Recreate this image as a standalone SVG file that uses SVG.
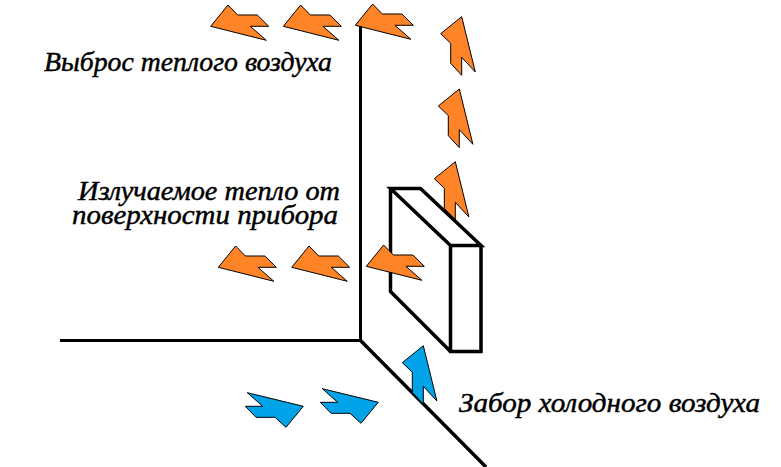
<svg xmlns="http://www.w3.org/2000/svg" width="781" height="467" viewBox="0 0 781 467">
<style>
.o{fill:#ff8427;stroke:#000;stroke-width:1}
.b{fill:#00a2e8;stroke:#000;stroke-width:1}
.l{fill:none;stroke:#000;stroke-width:3;stroke-linejoin:miter}
.d{fill:none;stroke:#000;stroke-width:3.500;stroke-linejoin:miter}
text{font-family:"Liberation Serif",serif;font-style:italic;font-size:27px;fill:#000;stroke:#000;stroke-width:.45}
</style>
<defs>
<polygon id="left" points="0,0 17.3,-21.3 27,-11.3 46.6,-11.3 58,0 39.6,0 55.6,14"/>
<polygon id="up" points="21,-17 0,0 10,9.6 10,29.6 21,41.6 21,23.6 34.6,38.3"/>
<polygon id="right" points="2,-13.6 58,0 40.7,21 29.7,11 10.7,11 0,0 17.4,0"/>
</defs>
<rect width="781" height="467" fill="#fff"/>
<g id="connectors">
<path class="l" d="M360.500 25V340.500H60"/>
<path class="d" d="M361 341L486 467"/>
</g>
<g id="arrows-orange-top">
<use id="a1" class="o" href="#left" x="210.700" y="26.300"/>
<use id="a2" class="o" href="#left" x="283.300" y="26.300"/>
<use id="a3" class="o" href="#left" x="355.300" y="25.300"/>
</g>
<g id="arrows-orange-up">
<use id="a4" class="o" href="#up" x="440.700" y="33.700"/>
<use id="a5" class="o" href="#up" x="438.300" y="106"/>
<use id="a6" class="o" href="#up" x="434.300" y="178.700"/>
</g>
<g id="device">
<path class="d" d="M390.500 188.500H420.500L481 245.500H450.500ZM450.500 245.500V351.500H481V245.500M390.500 188.500V291.500L450.500 351.500"/>
</g>
<g id="arrows-orange-mid">
<use id="a7" class="o" href="#left" x="218.300" y="267.300"/>
<use id="a8" class="o" href="#left" x="291.700" y="267.300"/>
<use id="a9" class="o" href="#left" x="366.300" y="266.300"/>
</g>
<g id="arrows-blue">
<use id="b1" class="b" href="#right" x="245.300" y="406.300"/>
<use id="b2" class="b" href="#right" x="320.300" y="402.300"/>
<use id="b3" class="b" href="#up" x="402.300" y="362.700"/>
</g>
<g id="labels">
<text id="t1" x="44" y="71" textLength="288" lengthAdjust="spacingAndGlyphs">Выброс теплого воздуха</text>
<text id="t2" x="78" y="200" textLength="262" lengthAdjust="spacingAndGlyphs">Излучаемое тепло от</text>
<text id="t3" x="72" y="224" textLength="266" lengthAdjust="spacingAndGlyphs">поверхности прибора</text>
<text id="t4" x="459" y="412" textLength="301" lengthAdjust="spacingAndGlyphs">Забор холодного воздуха</text>
</g>
</svg>
